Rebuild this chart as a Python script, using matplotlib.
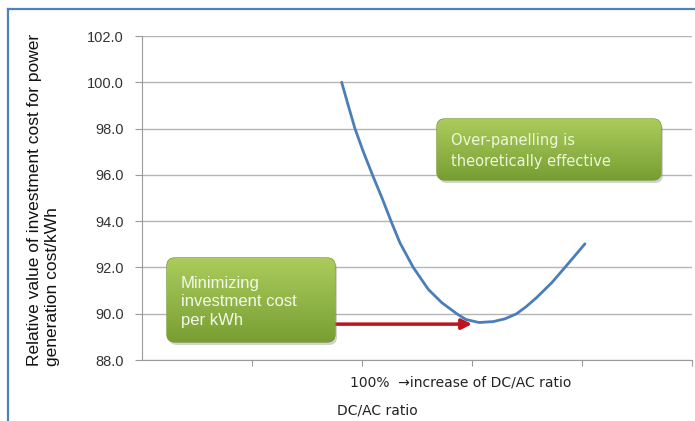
import matplotlib
matplotlib.use("Agg")
import matplotlib.pyplot as plt
import numpy as np
from matplotlib.patches import FancyBboxPatch
from matplotlib.lines import Line2D

# curve (x in category units of the DC/AC axis)
dc_ac_pos = [1.815, 1.875, 1.936, 2.012, 2.095, 2.182, 2.264, 2.345, 2.466, 2.603, 2.725,
             2.861, 2.945, 3.064, 3.194, 3.300, 3.406, 3.491, 3.588, 3.725, 3.845, 4.027]
rel_cost = [100.0, 99.0, 98.0, 97.0, 96.0, 95.0, 94.0, 93.06, 92.0, 91.05, 90.48,
            90.0, 89.75, 89.62, 89.66, 89.78, 90.0, 90.3, 90.7, 91.34, 92.0, 93.02]
y_ticks = [88.0, 90.0, 92.0, 94.0, 96.0, 98.0, 100.0, 102.0]
x_ticks = [1, 2, 3, 4, 5]
arrow_start, arrow_end, arrow_y = 1.755, 3.0, 89.55

W, H = 695, 421
fig = plt.figure(figsize=(W / 100, H / 100), dpi=100)
ax = fig.add_axes([142 / W, 1 - 360 / H, 550 / W, 324 / H])

ax.plot(dc_ac_pos, rel_cost, color="#4a7ebb", lw=2, solid_capstyle="round",
        solid_joinstyle="round")
ax.annotate("", xy=(arrow_end, arrow_y), xytext=(arrow_start, arrow_y),
            arrowprops=dict(arrowstyle="-|>,head_length=0.6,head_width=0.3",
                            color="#c0141c", lw=2.5, shrinkA=0, shrinkB=0))

ax.set_xlim(0, 5)
ax.set_ylim(88, 102)
ax.set_yticks(y_ticks)
ax.set_yticklabels([f"{v:.1f}" for v in y_ticks])
ax.set_xticks(x_ticks)
ax.set_xticklabels([])
ax.grid(axis="y", color="#b4b4b4", lw=1)
ax.set_axisbelow(True)
for s in ["top", "right"]:
    ax.spines[s].set_visible(False)
for s in ["left", "bottom"]:
    ax.spines[s].set_color("#9a9a9a")
ax.tick_params(axis="y", length=5, color="#9a9a9a", pad=8, labelsize=10.5,
               labelcolor="#333333", labelfontfamily="Liberation Sans")
ax.tick_params(axis="x", length=4, color="#9a9a9a")

ax.text((350 - 142) / 110, -0.07, "100%  \u2192increase of DC/AC ratio",
        transform=ax.get_xaxis_transform(), ha="left", va="center",
        fontsize=10, color="#222222", family="DejaVu Sans")
ax.set_xlabel("DC/AC ratio", fontsize=10, color="#222222", family="DejaVu Sans",
              x=(377 - 142) / 550, labelpad=24)

fig.text(44 / W, 1 - 366 / H,
         "Relative value of investment cost for power\ngeneration cost/kWh",
         rotation=90, ha="center", va="bottom", multialignment="left",
         fontsize=12.5, family="Liberation Sans", linespacing=1.25, color="#111111")

# overlay in pixel coordinates for the frame and the callout boxes
ov = fig.add_axes([0, 0, 1, 1], zorder=5)
ov.set_xlim(0, W)
ov.set_ylim(H, 0)
ov.axis("off")
ov.add_line(Line2D([8, W], [9, 9], color="#4f81bd", lw=1.6))
ov.add_line(Line2D([8, 8], [9, H], color="#4f81bd", lw=1.6))


def green_box(x0, y0, x1, y1, text, tcolor, family, size, ls, tx, ty):
    sh = FancyBboxPatch((x0 + 2, y0 + 3), x1 - x0, y1 - y0,
                        boxstyle="round,pad=0,rounding_size=8",
                        fc="#7f7f7f", ec="none", alpha=0.35)
    ov.add_patch(sh)
    box = FancyBboxPatch((x0, y0), x1 - x0, y1 - y0,
                         boxstyle="round,pad=0,rounding_size=8",
                         fc="#92b646", ec="#7a9b36", lw=1)
    ov.add_patch(box)
    grad = np.linspace(0, 1, 64).reshape(-1, 1)
    top = np.array([0.67, 0.80, 0.36])
    bot = np.array([0.47, 0.62, 0.20])
    img = top + (bot - top) * grad[..., None]
    im = ov.imshow(img, extent=(x0, x1, y1, y0), aspect="auto",
                   interpolation="bilinear", zorder=2)
    im.set_clip_path(box)
    ov.set_xlim(0, W)
    ov.set_ylim(H, 0)
    ov.text(tx, ty, text, ha="left", va="center", color=tcolor,
            family=family, fontsize=size, linespacing=ls, zorder=3)


green_box(167, 258, 335, 342, "Minimizing\ninvestment cost\nper kWh",
          "#f4f9ea", "Liberation Sans", 12, 1.3, 181, 302)
green_box(437, 119, 661, 180, "Over-panelling is\ntheoretically effective",
          "#eef7d8", "DejaVu Sans", 10.5, 1.45, 451, 151)

fig.savefig("out.png", dpi=100)
